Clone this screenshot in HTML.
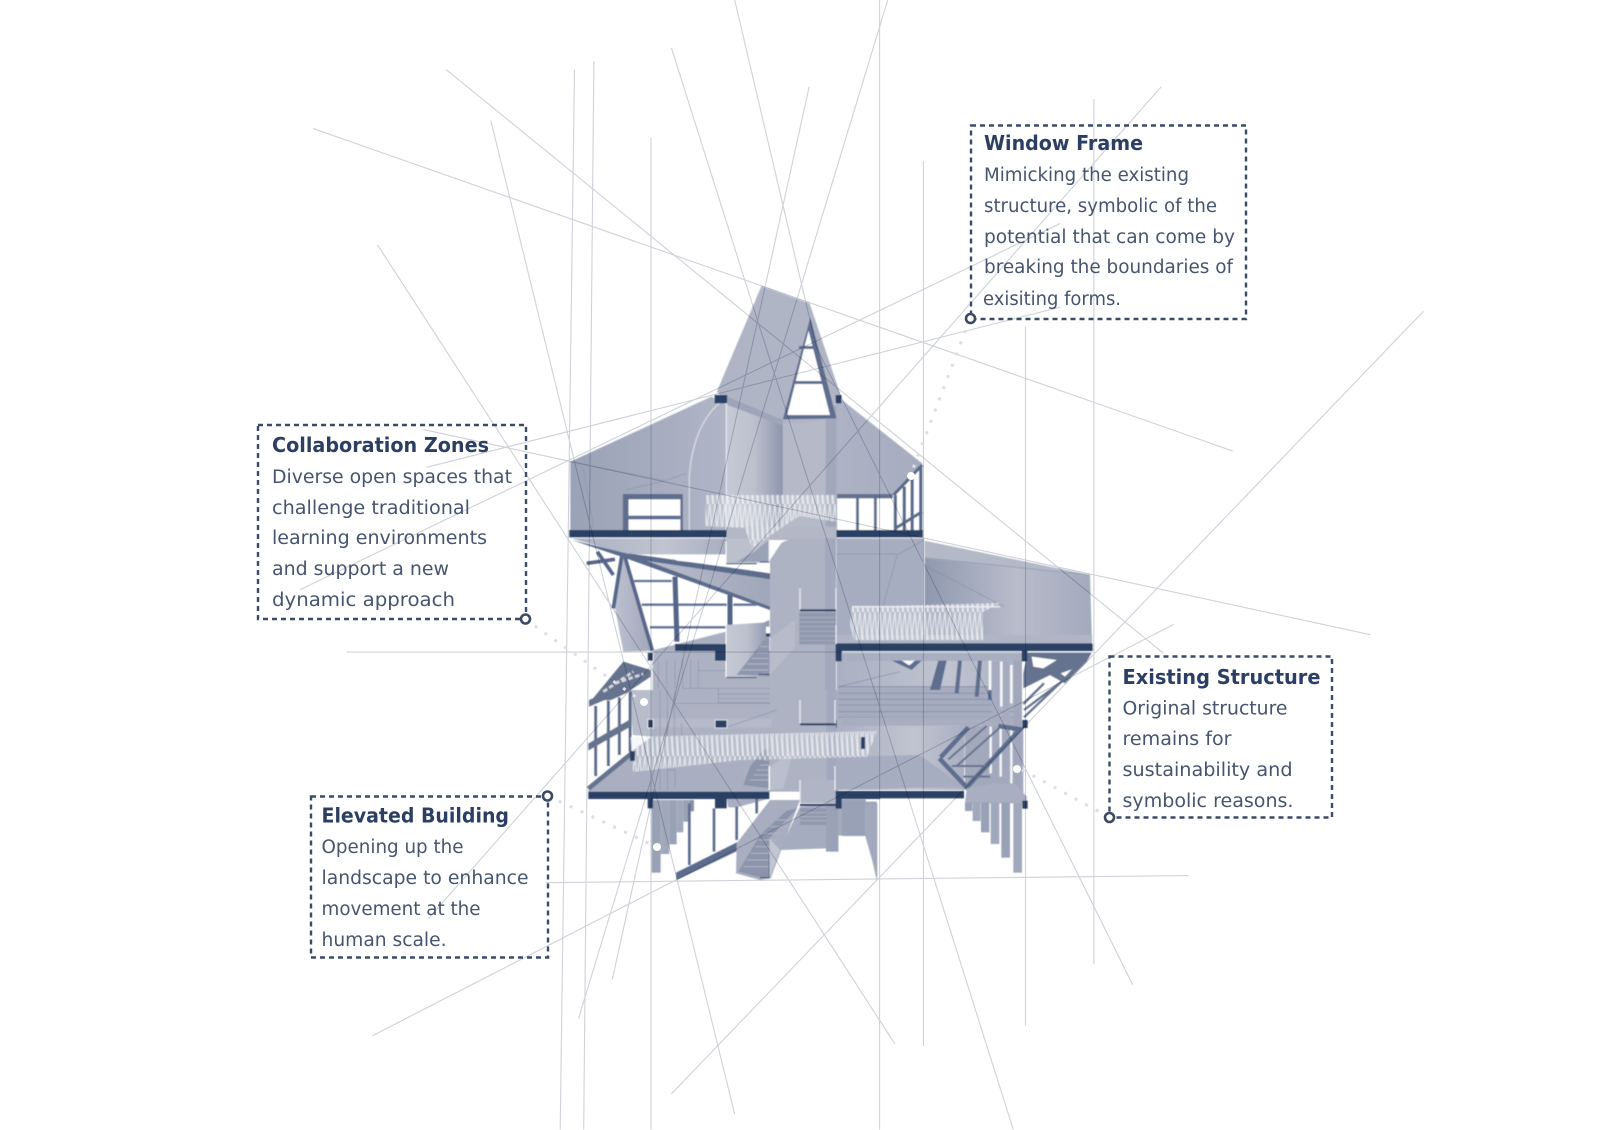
<!DOCTYPE html>
<html><head><meta charset="utf-8"><style>
html,body{margin:0;padding:0;background:#fff;width:1600px;height:1130px;overflow:hidden}
svg{display:block}
.t{font:700 20.5px "DejaVu Sans","Liberation Sans",sans-serif;fill:#2a3f63}
.b{font:400 18.2px "DejaVu Sans","Liberation Sans",sans-serif;fill:#47546f}
.box{fill:none;stroke:#3a4a68;stroke-width:2.4;stroke-dasharray:5 4}
.dot{fill:#fff;stroke:#3d4a62;stroke-width:2.6}
.lead{fill:none;stroke:#dcdfe5;stroke-width:3;stroke-dasharray:3 9}
</style></head><body>
<svg xmlns="http://www.w3.org/2000/svg" width="1600" height="1130" viewBox="0 0 1600 1130">
<defs>
<filter id="soft" x="-2%" y="-2%" width="104%" height="104%"><feGaussianBlur stdDeviation=".45"/></filter>
<linearGradient id="g1" x1="0" x2="1" y1="0" y2="0"><stop offset="0" stop-color="#9aa2b7"/><stop offset=".5" stop-color="#b3b8c8"/><stop offset="1" stop-color="#a7adc0"/></linearGradient>
<linearGradient id="g2" x1="0" x2="1" y1="0" y2="0"><stop offset="0" stop-color="#c6c9d5"/><stop offset=".5" stop-color="#bcc0cd"/><stop offset="1" stop-color="#8d96ad"/></linearGradient>
<linearGradient id="g4" x1="0" x2="1" y1="0" y2="0"><stop offset="0" stop-color="#8f98af"/><stop offset=".55" stop-color="#b8bccb"/><stop offset="1" stop-color="#a3aabd"/></linearGradient>
<linearGradient id="g5" x1="0" x2="1" y1="0" y2="0"><stop offset="0" stop-color="#bcc0ce"/><stop offset="1" stop-color="#a0a7ba"/></linearGradient>
<linearGradient id="g6" x1="0" x2="1" y1="0" y2="0"><stop offset="0" stop-color="#aab0c2"/><stop offset=".6" stop-color="#c0c4d0"/><stop offset="1" stop-color="#a9afc1"/></linearGradient>
<pattern id="lat" width="5" height="36" patternUnits="userSpaceOnUse"><path d="M0,0 L2.500,36 M5,0 L2.500,18 L3.500,36" fill="none" stroke="#f3f4f7" stroke-width=".9" opacity=".9"/></pattern>
</defs>

<g filter="url(#soft)">
<!-- UPPER part: overview zoom coords -->
<g transform="translate(540,260) scale(.35714,.33333)">
 <polygon points="620,78 755,130 840,400 810,470 680,495 525,430 495,395" fill="#b0b5c6"/>
 <polygon points="85,605 480,410 525,435 680,495 800,470 840,415 1070,610 1070,812 85,812" fill="url(#g1)"/>
 <polygon points="522,430 680,495 680,812 522,812" fill="url(#g2)"/>
 <polygon points="680,497 800,478 800,812 680,812" fill="#b6b9c7"/>
 <polygon points="800,478 830,430 830,812 800,812" fill="#a1a8bb"/>
 <polygon points="525,410 680,480 680,497 525,435" fill="#9ea5b9"/>
 <path d="M85,605 L350,662 L410,640 M240,690 L350,662 M120,620 L150,800" stroke="#8a94ac" stroke-width="2" fill="none"/>
 <polygon points="757,172 830,475 680,478" fill="#5f6e8f"/>
 <polygon points="752,212 812,465 692,465" fill="#fff"/>
 <rect x="725" y="258" width="52" height="9" fill="#5f6e8f"/><rect x="708" y="363" width="90" height="9" fill="#5f6e8f"/>
 <path d="M520,415 Q430,480 418,650 L418,810" fill="none" stroke="#dfe2ea" stroke-width="3"/>
 <rect x="520" y="430" width="3" height="480" fill="#eef0f4"/>
 <rect x="232" y="702" width="168" height="108" fill="#5f6e8f"/><rect x="248" y="718" width="145" height="92" fill="#fff"/><rect x="248" y="767" width="145" height="11" fill="#5f6e8f"/>
 <polygon points="832,715 1000,715 1000,810 832,810" fill="#fff"/>
 <rect x="832" y="702" width="160" height="13" fill="#66738f"/>
 <rect x="885" y="705" width="8" height="105" fill="#5f6e8f"/><rect x="935" y="705" width="8" height="105" fill="#5f6e8f"/>
 <polygon points="988,702 1070,612 1070,810 988,810" fill="#fff"/>
 <path d="M995,705 V810 M1020,680 V810 M1042,655 V810 M1066,620 V810 M990,705 L1070,615 M995,805 L1070,755" stroke="#5a6a8c" stroke-width="9" fill="none"/>
 <rect x="522" y="800" width="308" height="40" fill="#b4b8c6"/>
 <rect x="82" y="810" width="440" height="22" fill="#2a4165"/><rect x="830" y="810" width="242" height="22" fill="#2a4165"/>
 <rect x="489" y="405" width="35" height="25" fill="#2a4165"/><rect x="828" y="405" width="16" height="25" fill="#2a4165"/>
 <!-- right room + wing -->
 <rect x="830" y="835" width="245" height="320" fill="#a6adc0"/>
 <polygon points="1075,842 1540,945 1545,1130 1545,1152 1075,1152" fill="url(#g4)"/>
 <polygon points="1075,842 1075,895 1540,945" fill="#b4b9c8"/>
 <path d="M1075,893 L1540,945 M1075,915 L1300,1040 M1000,885 L1075,840 M1000,885 L960,1040 M830,882 H1000" stroke="#7f89a3" stroke-width="1.500" fill="none"/>
 <rect x="1074" y="840" width="3" height="310" fill="#eef0f4"/>
 <rect x="830" y="1125" width="716" height="27" fill="#b0b5c5"/>
 <rect x="830" y="1150" width="716" height="22" fill="#2a4165"/>
</g>

<!-- A: 560,520 -->
<g transform="translate(560,520) scale(.33333)">
 <polygon points="35,55 498,55 498,103 200,103" fill="url(#g6)"/>
 <polygon points="498,55 630,55 630,130 498,130" fill="#bcc0cd"/>
 <polygon points="530,125 625,125 625,60 590,90" fill="#9aa2b7"/>
 <path d="M498,65 V130 H628 V60" fill="none" stroke="#fff" stroke-width="3"/>
 <path d="M498,131 H590 M600,126 H628" stroke="#2a4165" stroke-width="3"/>
 <polygon points="630,120 665,68 695,55 828,55 828,540 630,540" fill="#aeb3c3"/>
 <polygon points="795,55 815,55 828,55 828,540 795,540" fill="#a3a9bc"/>
 <polygon points="210,110 630,178 630,262" fill="url(#g5)"/>
 <polygon points="35,60 200,100 630,260 630,270 190,112" fill="#5d6c8d"/>
 <polygon points="205,100 630,160 630,178 210,115" fill="#5d6c8d"/>
 <polygon points="345,113 420,120 420,129 350,122" fill="#fff"/><polygon points="430,122 497,130 497,138 470,136 430,131" fill="#fff"/><polygon points="590,140 630,138 630,158 585,152" fill="#fff"/>
 <path d="M222,183 H335 M245,254 H500 M520,254 H590 M270,322 H500" stroke="#68759a" stroke-width="7" fill="none"/>
 <path d="M345,170 L351,365 M510,225 V315" stroke="#556587" stroke-width="15" fill="none"/>
 <polygon points="180,115 195,115 278,392 190,395 165,265" fill="url(#g5)"/>
 <path d="M195,112 L277,392 M185,110 L160,265 M112,95 L160,165 M80,130 L165,118" stroke="#56668a" stroke-width="11" fill="none"/>
 <polygon points="275,392 498,335 498,395" fill="#a9afc1"/>
 <!-- floor -->
 <rect x="278" y="392" width="355" height="150" fill="#adb2c3"/>
 <path d="M295,420 V505 M320,420 V505 M345,420 V505 M368,420 V505 M392,420 V505 M415,420 V505 M415,452 H630 M368,505 H630 M475,505 V540" stroke="#8a94ac" stroke-width="2" fill="none"/>
 <!-- stair unit -->
 <polygon points="498,315 610,308 628,300 628,470 498,470" fill="url(#g2)"/>
 <polygon points="530,465 590,465 625,455 628,362 610,362" fill="#8d96ad"/>
 <path d="M545,450 H625 M560,432 H625 M575,415 H625 M590,398 H625 M600,380 H625" stroke="#b4b8c6" stroke-width="3"/>
 <path d="M498,315 V473 H590" fill="none" stroke="#fff" stroke-width="3"/>
 <path d="M498,473 H590 M595,463 H628" stroke="#2a4165" stroke-width="3"/>
 <rect x="618" y="320" width="12" height="30" fill="#fff"/><rect x="618" y="340" width="12" height="10" fill="#2a4165"/>
 <polygon points="630,355 705,300 705,380 630,465" fill="#b8bcca"/>
 <rect x="718" y="278" width="110" height="95" fill="#8f98af"/>
 <path d="M718,292 H828 M718,306 H828 M718,320 H828 M718,334 H828 M718,348 H828 M718,362 H828" stroke="#a8aec0" stroke-width="3"/>
 <rect x="720" y="268" width="108" height="6" fill="#2a4165"/>
 <path d="M720,205 V268 M828,205 V268 M828,315 V372" stroke="#e8eaf0" stroke-width="4"/>
 <!-- slab/pieces -->
 <rect x="345" y="372" width="153" height="21" fill="#2a4165"/><rect x="465" y="390" width="33" height="32" fill="#2a4165"/>
 <rect x="828" y="372" width="80" height="21" fill="#2a4165"/><rect x="828" y="390" width="17" height="32" fill="#2a4165"/>
 <rect x="262" y="397" width="18" height="26" fill="#2a4165" stroke="#fff" stroke-width="2"/>
 <!-- left hatch roof -->
 <polygon points="95,540 190,425 272,450 272,470 205,515 180,540" fill="#66738f"/>
 <path d="M130,515 L220,455 M165,490 L250,462" stroke="#d4d7e0" stroke-width="8" stroke-dasharray="14 7"/>
</g>

<!-- B: 580,690 -->
<g transform="translate(580,690) scale(.33333)">
 <rect x="214" y="0" width="360" height="305" fill="#adb2c3"/>
 <rect x="570" y="0" width="205" height="305" fill="#aeb3c3"/>
 <rect x="740" y="0" width="35" height="305" fill="#a3a9bc"/>
 <polygon points="150,0 215,0 215,140 158,135" fill="#b9bdcb"/>
 <polygon points="27,60 150,5 150,180 27,270" fill="#fff"/>
 <path d="M47,48 V258 M85,32 V228 M118,22 V195 M150,5 V185" stroke="#5a6a8c" stroke-width="9" fill="none"/>
 <polygon points="27,30 150,-20 150,-2 27,50" fill="#66738f"/>
 <polygon points="25,160 155,85 155,108 25,182" fill="#66738f"/>
 <polygon points="25,300 160,180 215,140 570,140 570,305 25,305" fill="#a9afc1"/>
 <path d="M25,296 L155,190" stroke="#66738f" stroke-width="14"/>
 <rect x="215" y="85" width="360" height="27" fill="#b5b9c8"/>
 <path d="M240,0 V300 M262,0 V300 M283,0 V170 M305,100 V170 M285,40 H570 M415,0 V38 H570 M415,12 H570 M415,26 H570 M262,240 H285 V290 M445,110 L590,60" stroke="#8a94ac" stroke-width="2" fill="none"/>
 <rect x="203" y="88" width="17" height="26" fill="#2a4165" stroke="#fff" stroke-width="2"/><rect x="405" y="90" width="36" height="24" fill="#2a4165" stroke="#fff" stroke-width="2"/><rect x="768" y="90" width="17" height="24" fill="#2a4165"/>
 <rect x="660" y="100" width="108" height="6" fill="#2a4165"/>
 <path d="M660,30 V100 M765,30 V100" stroke="#e8eaf0" stroke-width="4"/>
 <polygon points="490,285 568,295 568,175 550,180 510,230" fill="#8b94ab"/>
 <path d="M510,270 H568 M520,255 H568 M530,240 H568 M540,225 H568 M550,210 H568" stroke="#b0b5c5" stroke-width="3"/>
 <polygon points="570,232 640,180 610,295 570,300" fill="#bbbecc"/>
 <path d="M568,228 V300" stroke="#fff" stroke-width="4"/>
 <rect x="660" y="270" width="108" height="70" fill="#b0b5c5"/>
 <path d="M660,270 V340 M765,228 V300" stroke="#e8eaf0" stroke-width="4"/>
 <!-- underside -->
 <polygon points="440,325 570,325 545,332 470,352 445,352" fill="#a9afc1"/>
 <rect x="215" y="330" width="27" height="218" fill="#98a1b6"/><rect x="242" y="330" width="26" height="162" fill="#a0a8bb"/><rect x="268" y="330" width="22" height="133" fill="#98a1b6"/><rect x="290" y="330" width="20" height="97" fill="#a0a8bb"/><rect x="310" y="330" width="18" height="65" fill="#98a1b6"/><rect x="328" y="330" width="14" height="34" fill="#8690a8"/>
 <path d="M328,340 V525 M402,355 V485 M470,350 V450 M530,322 V370" stroke="#5f6e8f" stroke-width="8" fill="none"/>
 <polygon points="288,548 485,450 488,475 290,570" fill="#5d6c8d"/>
 <polygon points="468,550 540,570 572,565 660,330 570,330 470,460" fill="#a8aec0"/>
 <polygon points="475,545 540,435 620,362 652,355 568,445 568,560 540,562" fill="#8b94ab"/>
 <path d="M490,530 H568 M500,510 H568 M512,490 H570 M525,470 H582 M537,450 H595 M550,430 H607 M570,410 H625 M590,390 H635" stroke="#b0b5c5" stroke-width="3"/>
 <path d="M568,490 V563 H540" fill="none" stroke="#2a4165" stroke-width="3"/>
 <polygon points="600,480 660,350 860,335 860,435 775,437 775,485 738,475" fill="#a6acbf"/>
 <polygon points="568,445 600,480 568,565" fill="#c3c6d2"/>
 <polygon points="855,335 890,335 890,570 860,435" fill="#9aa2b7"/>
 <rect x="660" y="355" width="105" height="50" fill="#8f98af"/>
 <path d="M660,368 H765 M660,380 H765 M660,392 H765" stroke="#aeb3c3" stroke-width="3"/>
 <rect x="738" y="340" width="37" height="145" fill="#9aa2b7"/>
 <rect x="660" y="342" width="108" height="6" fill="#2a4165"/>
 <!-- slab -->
 <rect x="25" y="305" width="543" height="22" fill="#2a4165"/><rect x="405" y="325" width="35" height="30" fill="#2a4165"/><rect x="203" y="325" width="16" height="30" fill="#2a4165"/>
 <rect x="770" y="305" width="130" height="22" fill="#2a4165"/><rect x="768" y="325" width="17" height="30" fill="#2a4165"/>
</g>

<!-- C: 820,640 -->
<g transform="translate(820,640) scale(.33333)">
 <polygon points="622,38 815,38 800,65 735,130 690,105 610,145 610,100" fill="#66738f"/>
 <polygon points="635,50 710,60 670,85 640,80" fill="#fff"/>
 <polygon points="722,100 755,88 735,110" fill="#fff"/>
 <path d="M610,192 L672,130 M612,232 L790,62 M612,210 L725,125" stroke="#66738f" stroke-width="7" fill="none"/>
 <rect x="50" y="60" width="556" height="198" fill="url(#g6)"/>
 <polygon points="50,258 435,258 432,450 50,450" fill="url(#g6)"/>
 <polygon points="50,350 300,345 430,440 50,450" fill="#a7adc0"/>
 <rect x="65" y="38" width="540" height="25" fill="#a9afc1"/>
 <rect x="55" y="140" width="480" height="90" fill="#a6acbf"/>
 <path d="M55,140 H505 M55,160 H520 M55,178 H530 M55,195 H540 M55,215 H600 M55,232 H605" stroke="#838da7" stroke-width="2.500" fill="none"/>
 <rect x="65" y="232" width="540" height="25" fill="#a8aec0"/>
 <path d="M55,140 L240,95" stroke="#838da7" stroke-width="2"/>
 <polygon points="215,62 305,62 275,90" fill="#5f6e8f"/><polygon points="245,62 285,62 268,76" fill="#fff"/>
 <polygon points="355,62 380,62 360,150 330,150" fill="#5f6e8f"/>
 <path d="M420,62 L410,160 M480,62 L470,170 M510,150 V180 M560,130 V180" stroke="#5f6e8f" stroke-width="12" fill="none"/>
 <path d="M510,62 V150 M544,65 V200 M574,75 V190" stroke="#f5f6f8" stroke-width="8" fill="none"/>
 <rect x="435" y="258" width="170" height="185" fill="#a3a9bc"/>
 <path d="M512,260 V400 M542,265 V410 M574,270 V430" stroke="#f5f6f8" stroke-width="7" fill="none"/>
 <polygon points="590,265 610,260 610,500 590,450" fill="#a5abbe"/>
 <rect x="580" y="62" width="26" height="636" fill="#a1a8bb"/>
 <rect x="515" y="65" width="25" height="180" fill="#a6acbf"/><rect x="548" y="65" width="22" height="180" fill="#a6acbf"/>
 <path d="M358,355 L440,442 L600,268 L535,258 M362,352 L445,262" fill="none" stroke="#5f6e8f" stroke-width="14"/>
 <path d="M385,358 L500,258 M410,378 L540,262 M395,378 H510 M430,410 H510" stroke="#66738f" stroke-width="6" fill="none"/>
 <polygon points="440,445 520,430 585,432 620,470 620,490 435,490" fill="#a9afc1"/>
 <rect x="435" y="488" width="22" height="25" fill="#98a1b6"/><rect x="458" y="488" width="24" height="55" fill="#a0a8bb"/><rect x="483" y="488" width="25" height="89" fill="#98a1b6"/><rect x="512" y="488" width="26" height="124" fill="#a0a8bb"/><rect x="544" y="488" width="26" height="165" fill="#98a1b6"/>
 <rect x="65" y="478" width="72" height="110" fill="#98a1b6"/>
 <polygon points="135,490 172,490 172,715 135,585" fill="#a3a9bc"/>
 <rect x="47" y="12" width="771" height="21" fill="#2a4165"/><rect x="47" y="30" width="18" height="34" fill="#2a4165"/><rect x="605" y="30" width="17" height="34" fill="#2a4165"/>
 <rect x="47" y="453" width="385" height="22" fill="#2a4165"/><rect x="47" y="472" width="18" height="34" fill="#2a4165"/>
 <rect x="607" y="240" width="16" height="24" fill="#2a4165"/><rect x="607" y="482" width="16" height="24" fill="#2a4165"/>
</g>

<!-- lattices -->
<polygon points="706,495 836,495 836,522 800,516 790,522 752,548 745,528 705,526" fill="#e6e8ee" opacity=".3"/>
<polygon points="706,495 836,495 836,522 800,516 790,522 752,548 745,528 705,526" fill="url(#lat)"/>
<polygon points="852,607 1000,603 983,612 983,640 854,640 850,625" fill="#e6e8ee" opacity=".35"/>
<polygon points="852,607 1000,603 983,612 983,640 854,640 850,625" fill="url(#lat)"/>
<polygon points="630,737 877,731 867,757 740,760 633,772" fill="#e6e8ee" opacity=".25"/>
<polygon points="630,737 877,731 867,757 740,760 633,772" fill="url(#lat)"/>
<rect x="852" y="606" width="148" height="1.500" fill="#e8eaf0"/>
<rect x="861" y="737" width="4" height="12" fill="#2a4165"/><rect x="630" y="751" width="5" height="10" fill="#2a4165"/>
</g>

<!-- guide lines (overview coordinates), above building -->
<g transform="scale(1.02041)" stroke="#cfd2d9" stroke-width="1.100" fill="none" style="mix-blend-mode:multiply">
 <path d="M563,68 L549,1107"/><path d="M582,60 L572,1107"/><path d="M638,135 V1107"/>
 <path d="M862,0 V1107"/><path d="M905,158 V1025"/><path d="M1005,320 V1005"/><path d="M1072,97 V945"/>
 <path d="M307,126 L1208,442"/><path d="M437,68 L1140,640"/><path d="M370,240 L877,1023"/>
 <path d="M481,118 L720,1092"/><path d="M658,47 L993,1107"/><path d="M720,0 L800,340 L1110,965"/>
 <path d="M870,0 L567,998"/><path d="M793,85 L600,960"/><path d="M1395,305 L658,1072"/>
 <path d="M1138,85 L420,900"/><path d="M365,1015 L1150,612"/>
 <path d="M340,639 H1000"/><path d="M535,865 L1165,858"/>
 <path d="M418,458 L1039,301"/><path d="M294,578 L1039,219"/><path d="M415,421 L1343,622"/>
</g>

<!-- leaders -->
<path class="lead" d="M970,319 L911,474"/><path class="lead" d="M525,619 L640,700"/><path class="lead" d="M548,796 L657,847"/><path class="lead" d="M1109,817 L1017,767"/>
<g fill="#fff"><circle cx="911" cy="476" r="4"/><circle cx="644" cy="702" r="4"/><circle cx="657" cy="847" r="4"/><circle cx="1017" cy="769" r="4"/></g>

<!-- callouts -->
<rect class="box" x="971" y="125.500" width="275" height="193.500"/>
<circle class="dot" cx="970.500" cy="318.500" r="4.500"/>
<text class="t" x="984" y="150" textLength="159" lengthAdjust="spacingAndGlyphs">Window Frame</text>
<text class="b" x="984" y="181" textLength="205" lengthAdjust="spacingAndGlyphs">Mimicking the existing</text>
<text class="b" x="984" y="212" textLength="233" lengthAdjust="spacingAndGlyphs">structure, symbolic of the</text>
<text class="b" x="984" y="243" textLength="251" lengthAdjust="spacingAndGlyphs">potential that can come by</text>
<text class="b" x="984" y="273" textLength="249" lengthAdjust="spacingAndGlyphs">breaking the boundaries of</text>
<text class="b" x="983" y="305" textLength="138" lengthAdjust="spacingAndGlyphs">exisiting forms.</text>

<rect class="box" x="258" y="425" width="268" height="194"/>
<circle class="dot" cx="525.500" cy="619" r="4.500"/>
<text class="t" x="272" y="452" textLength="217" lengthAdjust="spacingAndGlyphs">Collaboration Zones</text>
<text class="b" x="272" y="483" textLength="240" lengthAdjust="spacingAndGlyphs">Diverse open spaces that</text>
<text class="b" x="272" y="514" textLength="198" lengthAdjust="spacingAndGlyphs">challenge traditional</text>
<text class="b" x="272" y="544" textLength="215" lengthAdjust="spacingAndGlyphs">learning environments</text>
<text class="b" x="272" y="575" textLength="177" lengthAdjust="spacingAndGlyphs">and support a new</text>
<text class="b" x="272" y="606" textLength="183" lengthAdjust="spacingAndGlyphs">dynamic approach</text>

<rect class="box" x="1109.500" y="656.500" width="222.500" height="161"/>
<circle class="dot" cx="1109.500" cy="817.500" r="4.500"/>
<text class="t" x="1122.500" y="684" textLength="198" lengthAdjust="spacingAndGlyphs">Existing Structure</text>
<text class="b" x="1122.500" y="714.500" textLength="165" lengthAdjust="spacingAndGlyphs">Original structure</text>
<text class="b" x="1122.500" y="745" textLength="109" lengthAdjust="spacingAndGlyphs">remains for</text>
<text class="b" x="1122.500" y="776" textLength="170" lengthAdjust="spacingAndGlyphs">sustainability and</text>
<text class="b" x="1122.500" y="807" textLength="171" lengthAdjust="spacingAndGlyphs">symbolic reasons.</text>

<rect class="box" x="311" y="796.500" width="237" height="161"/>
<circle class="dot" cx="547.500" cy="796" r="4.500"/>
<text class="t" x="321.500" y="822.500" textLength="187.500" lengthAdjust="spacingAndGlyphs">Elevated Building</text>
<text class="b" x="321.500" y="853" textLength="142" lengthAdjust="spacingAndGlyphs">Opening up the</text>
<text class="b" x="321.500" y="884" textLength="207" lengthAdjust="spacingAndGlyphs">landscape to enhance</text>
<text class="b" x="321.500" y="915" textLength="159" lengthAdjust="spacingAndGlyphs">movement at the</text>
<text class="b" x="321.500" y="946" textLength="125" lengthAdjust="spacingAndGlyphs">human scale.</text>
</svg>
</body></html>
